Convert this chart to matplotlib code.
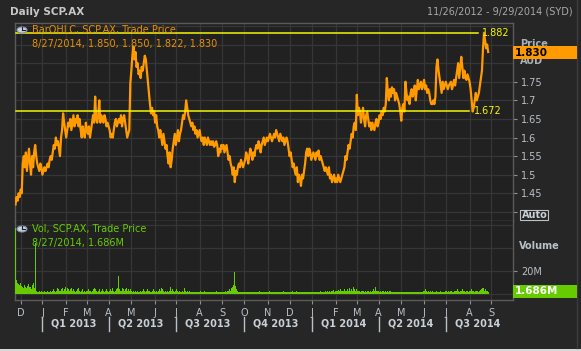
import numpy as np
import pandas as pd
import matplotlib
matplotlib.use('Agg')
import matplotlib.pyplot as plt
from matplotlib.patches import Rectangle, Circle

# ---- data ----
dates = pd.bdate_range('2012-11-26', '2014-08-27')
axis_dates = pd.bdate_range('2012-11-26', '2014-09-29')

close = [
    1.42, 1.44, 1.43, 1.45, 1.44, 1.46, 1.45, 1.53, 1.55, 1.52,
    1.56, 1.51, 1.54, 1.57, 1.53, 1.50, 1.55, 1.52, 1.56, 1.58,
    1.55, 1.53, 1.52, 1.51, 1.53, 1.52, 1.50, 1.51, 1.52, 1.51,
    1.52, 1.53, 1.52, 1.54, 1.55, 1.54, 1.56, 1.58, 1.57, 1.60,
    1.58, 1.59, 1.57, 1.55, 1.60, 1.62, 1.665, 1.64, 1.62, 1.60,
    1.62, 1.64, 1.63, 1.65, 1.62, 1.64, 1.66, 1.63, 1.65, 1.64,
    1.66, 1.63, 1.65, 1.62, 1.60, 1.63, 1.61, 1.60, 1.64, 1.62,
    1.61, 1.63, 1.60, 1.62, 1.64, 1.66, 1.64, 1.71, 1.65, 1.64,
    1.66, 1.70, 1.64, 1.66, 1.65, 1.64, 1.66, 1.65, 1.63, 1.64,
    1.63, 1.62, 1.60, 1.61, 1.60, 1.62, 1.64, 1.65, 1.63, 1.64,
    1.65, 1.64, 1.66, 1.63, 1.65, 1.66, 1.64, 1.62, 1.60, 1.61,
    1.62, 1.745, 1.78, 1.82, 1.845, 1.81, 1.83, 1.79, 1.80, 1.77,
    1.78, 1.76, 1.79, 1.78, 1.80, 1.82, 1.81, 1.78, 1.75, 1.72,
    1.69, 1.665, 1.68, 1.66, 1.67, 1.64, 1.66, 1.63, 1.62, 1.60,
    1.62, 1.60, 1.58, 1.61, 1.59, 1.57, 1.58, 1.55, 1.53, 1.56,
    1.52, 1.54, 1.57, 1.59, 1.61, 1.58, 1.60, 1.62, 1.59, 1.61,
    1.62, 1.64, 1.66, 1.65, 1.67, 1.70, 1.68, 1.66, 1.65, 1.64,
    1.63, 1.64, 1.62, 1.63, 1.61, 1.62, 1.60, 1.61, 1.62, 1.60,
    1.59, 1.60, 1.58, 1.60, 1.59, 1.58, 1.60, 1.59, 1.58, 1.59,
    1.58, 1.59, 1.575, 1.58, 1.59, 1.58, 1.55, 1.57, 1.56, 1.58,
    1.57, 1.58, 1.56, 1.57, 1.58, 1.56, 1.54, 1.55, 1.53, 1.52,
    1.50, 1.52, 1.48, 1.51, 1.50, 1.52, 1.53, 1.52, 1.54, 1.53,
    1.52, 1.53, 1.54, 1.56, 1.55, 1.53, 1.55, 1.57, 1.56, 1.54,
    1.56, 1.55, 1.57, 1.58, 1.57, 1.59, 1.58, 1.56, 1.58, 1.59,
    1.60, 1.58, 1.59, 1.60, 1.59, 1.60, 1.61, 1.60, 1.59, 1.60,
    1.61, 1.60, 1.62, 1.61, 1.60, 1.59, 1.61, 1.60, 1.59, 1.60,
    1.58, 1.59, 1.60, 1.59, 1.57, 1.55, 1.56, 1.54, 1.52, 1.53,
    1.51, 1.50, 1.52, 1.48, 1.50, 1.49, 1.47, 1.50, 1.49, 1.51,
    1.53, 1.56, 1.57, 1.55, 1.57, 1.56, 1.54, 1.55, 1.56, 1.55,
    1.54, 1.56, 1.55, 1.565, 1.54, 1.55, 1.54, 1.53, 1.52, 1.51,
    1.52, 1.51, 1.50, 1.52, 1.49, 1.50, 1.48, 1.49, 1.50, 1.48,
    1.49, 1.48, 1.50, 1.49, 1.48, 1.49, 1.50, 1.51, 1.52, 1.55,
    1.54, 1.56, 1.58, 1.57, 1.59, 1.61, 1.60, 1.63, 1.64, 1.62,
    1.715, 1.66, 1.68, 1.67, 1.64, 1.66, 1.68, 1.65, 1.63, 1.66,
    1.67, 1.65, 1.63, 1.64, 1.62, 1.64, 1.63, 1.62, 1.64, 1.65,
    1.63, 1.64, 1.66, 1.65, 1.67, 1.66, 1.68, 1.67, 1.69, 1.76,
    1.72, 1.70, 1.73, 1.71, 1.735, 1.72, 1.73, 1.70, 1.72, 1.71,
    1.70, 1.69, 1.67, 1.645, 1.68, 1.69, 1.67, 1.75, 1.72, 1.70,
    1.71, 1.69, 1.72, 1.73, 1.71, 1.72, 1.74, 1.70, 1.73, 1.755,
    1.73, 1.74, 1.75, 1.73, 1.74, 1.755, 1.73, 1.74, 1.72, 1.73,
    1.72, 1.70, 1.69, 1.69, 1.70, 1.69, 1.71, 1.79, 1.81, 1.78,
    1.76, 1.74, 1.72, 1.75, 1.73, 1.74, 1.75, 1.74, 1.73, 1.74,
    1.745, 1.75, 1.73, 1.74, 1.755, 1.74, 1.76, 1.78, 1.80, 1.76,
    1.79, 1.817, 1.79, 1.76, 1.78, 1.76, 1.755, 1.77, 1.76, 1.75,
    1.73, 1.70, 1.67, 1.68, 1.70, 1.72, 1.70, 1.71, 1.72, 1.74,
    1.76, 1.78, 1.84, 1.882, 1.86, 1.84, 1.85, 1.830,
]

# volume in millions
volume = [
    57, 12, 10, 9, 8, 10, 7, 6, 5, 8,
    6, 5, 7, 9, 6, 4, 8, 10, 5, 44,
    3, 2, 2, 3, 2, 3, 2, 2, 3, 2,
    2, 3, 2, 2, 3, 2, 3, 4, 3, 2,
    3, 5, 4, 3, 4, 5, 3, 4, 6, 3,
    5, 4, 3, 4, 5, 3, 4, 3, 2, 3,
    4, 5, 3, 2, 3, 4, 2, 3, 2, 3,
    3, 4, 3, 2, 3, 4, 5, 4, 3, 2,
    3, 4, 2, 3, 4, 3, 2, 3, 4, 3,
    2, 3, 4, 3, 5, 3, 2, 3, 4, 5,
    16, 4, 3, 5, 4, 3, 4, 5, 3, 4,
    3, 4, 3, 2, 3, 2, 3, 2, 3, 2,
    2, 3, 2, 3, 4, 3, 2, 3, 4, 3,
    3, 2, 3, 4, 3, 2, 3, 2, 3, 4,
    3, 5, 4, 3, 2, 3, 2, 3, 2, 3,
    6, 3, 4, 3, 2, 3, 4, 3, 2, 3,
    2, 3, 2, 5, 3, 2, 3, 2, 3, 2,
    2, 1.5, 2, 1.5, 2, 1.5, 2, 1.5, 2, 3,
    2, 1.5, 2, 2.5, 1.5, 2, 1.5, 2, 1.5, 2,
    1.5, 2, 1.5, 2, 3, 2, 1.5, 2, 1.5, 2,
    2, 1.5, 2, 3, 2, 2.5, 3, 4, 3, 5,
    6, 8, 19, 7, 4, 3, 2, 2, 1.5, 2,
    2, 1.5, 2, 1.5, 2, 2, 1.5, 2, 2, 1.5,
    2, 1.5, 2, 1.5, 2, 2, 3, 1.5, 2, 1.5,
    2, 1.5, 2, 2, 1.5, 2, 3, 1.5, 2, 1.5,
    2, 1.5, 2, 2, 1.5, 2, 2, 1.5, 2, 3,
    2, 1.5, 2, 1.5, 2, 2, 1.5, 2, 3, 2,
    1.5, 2, 2.5, 1.5, 2, 1.5, 2, 1.5, 2, 1.5,
    2, 1.5, 2, 1.5, 2, 2, 1.5, 2, 1.5, 2,
    1.5, 2, 1.5, 2, 2, 2.5, 1.5, 2, 1.5, 2,
    2.5, 2, 3, 2, 2.5, 2, 3, 3.5, 2, 3,
    3, 2.5, 3.5, 3, 4, 3, 2.5, 3, 4, 3,
    3, 4, 3, 5, 3, 4, 3, 6, 4, 3,
    4, 3, 2.5, 3, 2, 2.5, 3, 2, 2.5, 2,
    3, 2.5, 2, 3, 2, 2.5, 4, 3, 6, 3,
    2.5, 3, 2, 3, 2, 2.5, 3, 2, 3, 2,
    2.5, 2, 3, 2.5, 2, 2, 1.5, 2, 2, 1.5,
    2, 2, 1.5, 2, 1.5, 2, 2, 1.5, 2, 2,
    1.5, 2, 2, 1.5, 2, 1.5, 2, 2, 1.5, 2,
    2, 1.5, 2, 2, 2.5, 3, 4, 3, 2, 3,
    2, 2.5, 2, 3, 2, 1.5, 2, 2.5, 2, 1.5,
    2, 2.5, 2, 1.5, 2, 2, 2.5, 3, 2, 2.5,
    2, 2.5, 3, 2, 3, 2.5, 3, 4, 3, 2,
    2.5, 3, 4, 3, 2.5, 2, 2.5, 3, 2, 2.5,
    3, 4, 2.5, 3, 2, 2.5, 3, 2.5, 2, 3,
    3.5, 4, 5, 3, 4, 3, 2.5, 1.686,
]

month_letters = ['J', 'F', 'M', 'A', 'M', 'J', 'J', 'A', 'S', 'O', 'N', 'D']
price_ticks = [1.40, 1.45, 1.50, 1.55, 1.60, 1.65, 1.70, 1.75]
price_grid = [1.40, 1.45, 1.50, 1.55, 1.60, 1.65, 1.70, 1.75, 1.80, 1.85, 1.90]
vol_grid = [0, 20, 40, 60]
high_level = 1.882
low_level = 1.672
last_text = '8/27/2014, 1.850, 1.850, 1.822, 1.830'
last_vol_text = '8/27/2014, 1.686M'

# ---- colours ----
BG = '#262626'
PANEL = '#212121'
GRID = '#363636'
FRAME = '#5a5a5a'
ORANGE = '#ff9a00'
YELLOW = '#f5f500'
GREEN = '#66cc00'
TXT = '#b8c0c8'

W, H = 581, 351
fig = plt.figure(figsize=(W / 100, H / 100), dpi=100, facecolor=BG)
plt.rcParams['font.family'] = 'DejaVu Sans'


def fx(x):
    return x / W


def fy(y):
    return 1 - y / H


def ftext(x, y, s, **kw):
    kw.setdefault('va', 'center')
    kw.setdefault('fontsize', 7)
    fig.text(fx(x), fy(y), s, **kw)


x = np.arange(len(close))
month_pos = [i for i in range(1, len(axis_dates)) if axis_dates[i].month != axis_dates[i - 1].month]
quarter_pos = [i for i in month_pos if axis_dates[i].month in (1, 4, 7, 10)]

# price panel + volume panel
ax_p = fig.add_axes([fx(15), fy(221), fx(513) - fx(15), fy(23) - fy(221)], facecolor=PANEL)
ax_v = fig.add_axes([fx(15), fy(300), fx(513) - fx(15), fy(221) - fy(300)], facecolor=PANEL)

for ax in (ax_p, ax_v):
    ax.set_xlim(-0.5, 481)
    for m in month_pos:
        ax.axvline(m, color=GRID, lw=0.9, zorder=0)
    for s in ax.spines.values():
        s.set_color(FRAME)
        s.set_linewidth(1)
    ax.spines['top'].set_visible(ax is ax_p)

ax_p.set_ylim(1.3755, 1.908)
for g in price_grid:
    ax_p.axhline(g, color=GRID, lw=0.9, zorder=0)
ax_p.plot(x, close, color=ORANGE, lw=1.6, zorder=3)
ax_p.plot([0, 447], [high_level, high_level], color=YELLOW, lw=1.1, zorder=4)
ax_p.plot([0, 438], [low_level, low_level], color=YELLOW, lw=1.1, zorder=4)
ax_p.text(451, high_level, '%.3f' % high_level, color=YELLOW, fontsize=7, va='center', zorder=5)
ax_p.text(443, low_level, '%.3f' % low_level, color=YELLOW, fontsize=7, va='center', zorder=5)
ax_p.yaxis.tick_right()
ax_p.set_yticks(price_ticks)
ax_p.set_yticklabels([''] + ['%g' % t for t in price_ticks[1:]])
ax_p.tick_params(axis='y', colors=TXT, labelsize=7, length=3, pad=3)
ax_p.tick_params(axis='y', color='#909090')
ax_p.set_xticks([])

ax_v.set_ylim(-5.2, 63.5)
for g in vol_grid:
    ax_v.axhline(g, color=GRID, lw=0.9, zorder=0)
ax_v.bar(x, volume, width=1.0, color=GREEN, linewidth=0, zorder=3)
ax_v.yaxis.tick_right()
ax_v.set_yticks([20])
ax_v.set_yticklabels(['20M'])
ax_v.tick_params(axis='y', colors=TXT, labelsize=7, length=3, pad=3)
ax_v.tick_params(axis='y', color='#909090')
ax_v.set_xticks(month_pos)
ax_v.set_xticklabels([month_letters[axis_dates[i].month - 1] for i in month_pos])
ax_v.tick_params(axis='x', colors=TXT, labelsize=7, length=3, pad=3)
ax_v.tick_params(axis='x', color='#909090')

# quarter labels
for q in quarter_pos:
    px = 15 + (q + 0.5) / 481.5 * 498
    fig.add_artist(plt.Line2D([fx(px), fx(px)], [fy(317), fy(331)], color=TXT, lw=1))
    d = axis_dates[q]
    ftext(px + 9, 324, 'Q%d %d' % ((d.month - 1) // 3 + 1, d.year), color='#c8d0d8',
          fontweight='bold', ha='left')

# header texts
ftext(10, 12, 'Daily SCP.AX', color='#c8c8c8', fontweight='bold', fontsize=7.5)
ftext(573, 12, '11/26/2012 - 9/29/2014 (SYD)', color='#a8a8a8', ha='right')

# legend captions with clock icons
for cy, c1, c2, col in [(30, 'BarOHLC, SCP.AX, Trade Price', last_text, '#e89000'),
                        (229, 'Vol, SCP.AX, Trade Price', last_vol_text, '#66cc00')]:
    fig.add_artist(Circle((fx(22), fy(cy)), 5 / W, transform=fig.transFigure,
                          facecolor='#c8d4e0', edgecolor='#8090a8', lw=0.8, zorder=10))
    fig.add_artist(plt.Line2D([fx(22), fx(22)], [fy(cy), fy(cy - 3)], color='#202020', lw=0.8, zorder=11))
    fig.add_artist(plt.Line2D([fx(22), fx(25)], [fy(cy), fy(cy)], color='#202020', lw=0.8, zorder=11))
    ftext(32, cy, c1, color=col, zorder=10)
    ftext(32, cy + 14, c2, color=col, zorder=10)

# right side labels and value tags
ftext(520, 44, 'Price', color='#a8b0b8', fontweight='bold')
ftext(520, 61, 'AUD', color='#a8b0b8', fontweight='bold')
fig.add_artist(Rectangle((fx(513), fy(59)), fx(577) - fx(513), fy(46) - fy(59),
                         transform=fig.transFigure, facecolor=ORANGE, edgecolor='none', zorder=5))
ftext(515, 52.5, '%.3f' % close[-1], color='black', fontweight='bold', fontsize=7.5, zorder=6)

fig.add_artist(Rectangle((fx(520), fy(220)), fx(548) - fx(520), fy(210) - fy(220),
                         transform=fig.transFigure, facecolor='none', edgecolor='#c0c0c0', lw=0.8))
ftext(522, 215, 'Auto', color='#c8d0d8', fontweight='bold')

ftext(519, 246, 'Volume', color='#b8c0c8', fontweight='bold')
fig.add_artist(Rectangle((fx(513), fy(298)), fx(577) - fx(513), fy(285) - fy(298),
                         transform=fig.transFigure, facecolor=GREEN, edgecolor='none', zorder=5))
ftext(515, 291.5, '%.3fM' % volume[-1], color='white', fontweight='bold', fontsize=7.5, zorder=6)

# window edges
fig.add_artist(plt.Line2D([fx(577), fx(577)], [fy(0), fy(348)], color='#3c3c3c', lw=1))
fig.add_artist(Rectangle((0, 0), 1, 2 / H, transform=fig.transFigure,
                         facecolor='#d8d8d8', edgecolor='none'))

fig.savefig('out.png', dpi=100, facecolor=BG)
